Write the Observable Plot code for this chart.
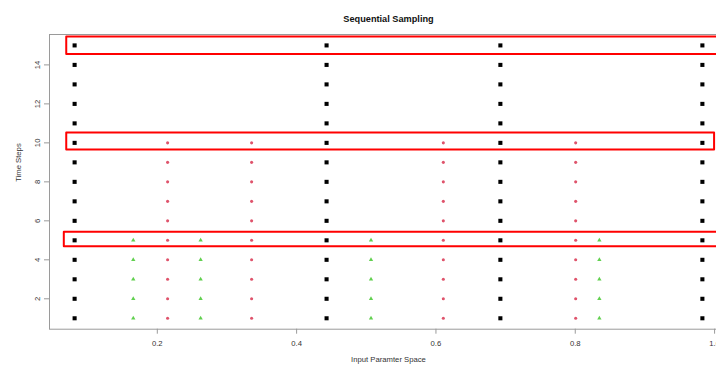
<!DOCTYPE html>
<html><head><meta charset="utf-8">
<script src="https://cdn.jsdelivr.net/npm/d3@7"></script>
<script src="https://cdn.jsdelivr.net/npm/@observablehq/plot@0.6"></script>
<style>
html,body{margin:0;padding:0;background:#fff;overflow:hidden;width:716px;height:367px;}
#chart svg{max-width:none !important;display:block;}
</style></head><body><div id="chart"></div>
<script>
// Stage 1: black squares, sampled for steps 1..15
const stage1X = [0.0813, 0.443, 0.6925, 0.9825];
const stage1Steps = 15;
// Stage 2: pink circles, steps 1..10
const stage2X = [0.2148, 0.3354, 0.6106, 0.8006];
const stage2Steps = 10;
// Stage 3: green triangles, steps 1..5
const stage3X = [0.1655, 0.2622, 0.5068, 0.8346];
const stage3Steps = 5;
// Axis ticks
const xTicks = [0.2, 0.4, 0.6, 0.8, 1.0];
const yTicks = [2, 4, 6, 8, 10, 12, 14];
// Highlight boxes
const boxX1 = [0.07, 0.07, 0.0665];
const boxX2 = [1.05, 1.0, 1.05];
const boxY1 = [14.53, 9.63, 4.67];
const boxY2 = [15.43, 10.51, 5.42];

const title = "Sequential Sampling";
const xLabel = "Input Paramter Space";
const yLabel = "Time Steps";

function expand(xs, steps) {
  const out = [];
  for (const x of xs) for (let t = 1; t <= steps; t++) out.push({x, t});
  return out;
}
const s1 = expand(stage1X, stage1Steps);
const s2 = expand(stage2X, stage2Steps);
const s3 = expand(stage3X, stage3Steps);
const boxes = boxX1.map((d, i) => ({x1: boxX1[i], x2: boxX2[i], y1: boxY1[i], y2: boxY2[i]}));

// R-style 4% padding of the data range
const allX = [...stage1X, ...stage2X, ...stage3X];
const xmin = d3.min(allX), xmax = d3.max(allX);
const xpad = (xmax - xmin) * 0.04;
const ypad = (stage1Steps - 1) * 0.04;

const font = "'Liberation Sans', Arial, sans-serif";
const chart = Plot.plot({
  width: 760, height: 367,
  marginLeft: 49, marginRight: 33, marginTop: 34, marginBottom: 38.3,
  style: {fontFamily: font, fontSize: "7.7px", background: "white", color: "#333"},
  x: {domain: [xmin - xpad, xmax + xpad]},
  y: {domain: [1 - ypad, stage1Steps + ypad]},
  marks: [
    Plot.frame({stroke: "#9a9a9a"}),
    Plot.axisX({ticks: xTicks, tickSize: 5, tickPadding: 6, stroke: "#9a9a9a", fill: "#333", tickFormat: d3.format(".1f"), label: null}),
    Plot.axisY({ticks: yTicks, tickSize: 5, tickPadding: 5, tickRotate: -90, stroke: "#9a9a9a", fill: "#333", label: null}),
    Plot.dot(s1, {x: "x", y: "t", symbol: "square", fill: "black", r: 2.3}),
    Plot.dot(s2, {x: "x", y: "t", symbol: "circle", fill: "#DF536B", r: 1.55}),
    Plot.dot(s3, {x: "x", y: "t", symbol: "triangle", fill: "#61D04F", r: 1.6}),
    Plot.rect(boxes, {x1: "x1", x2: "x2", y1: "y1", y2: "y2", fill: "none", stroke: "#ff0000", strokeWidth: 2, strokeLinejoin: "round"}),
    Plot.text([title], {frameAnchor: "top", dy: -18.6, fontWeight: "bold", fontSize: 9.2, fill: "#111"}),
    Plot.text([xLabel], {frameAnchor: "bottom", dy: 33, fontSize: 7.7, fill: "#333"}),
    Plot.text([yLabel], {frameAnchor: "left", dx: -28.6, rotate: -90, lineAnchor: "bottom", fontSize: 7.7, fill: "#333"})
  ]
});
document.getElementById("chart").appendChild(chart);
</script></body></html>
